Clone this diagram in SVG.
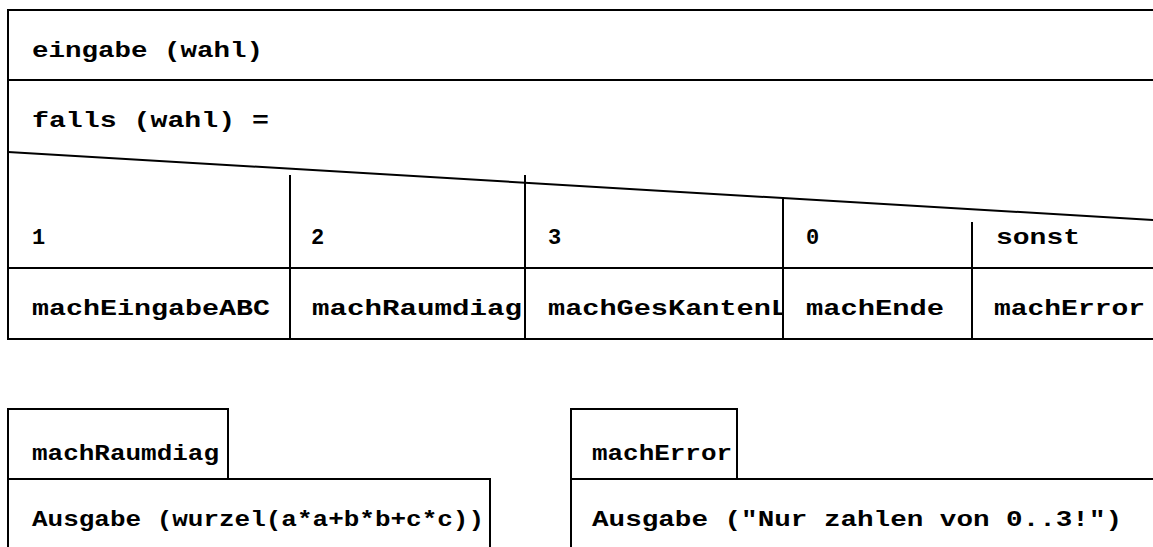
<svg xmlns="http://www.w3.org/2000/svg" width="1153" height="547" viewBox="0 0 1153 547">
  <style>
    .ln { stroke: #000; stroke-width: 2; fill: none; }
    .bx { stroke: #000; stroke-width: 2; fill: #fff; }
    .t { font-family: "Liberation Mono", "Courier New", monospace; font-weight: bold; font-size: 22px; fill: #000; }
  </style>
  <defs>
    <clipPath id="clip-case3"><rect x="526" y="269" width="256" height="69"/></clipPath>
  </defs>
  <rect width="1153" height="547" fill="#fff"/>

  <!-- main structogram -->
  <g id="main">
    <rect class="bx" x="8" y="10" width="1160" height="329"/>
    <line class="ln" x1="8" y1="80" x2="1160" y2="80"/>
    <text class="t" x="32" y="57" textLength="231" lengthAdjust="spacingAndGlyphs">eingabe (wahl)</text>
  </g>

  <g id="switch">
    <text class="t" x="32" y="127" textLength="237" lengthAdjust="spacingAndGlyphs">falls (wahl) =</text>
    <line class="ln" x1="8" y1="152" x2="1160" y2="220.4"/>
    <line class="ln" x1="8" y1="268" x2="1160" y2="268"/>
  </g>

  <g id="connectors">
    <line class="ln" x1="290" y1="175" x2="290" y2="339"/>
    <line class="ln" x1="525" y1="175" x2="525" y2="339"/>
    <line class="ln" x1="783" y1="198" x2="783" y2="339"/>
    <line class="ln" x1="972" y1="222" x2="972" y2="339"/>
  </g>

  <g id="case-1">
    <text class="t" x="32" y="244">1</text>
    <text class="t" x="32" y="315" textLength="238" lengthAdjust="spacingAndGlyphs">machEingabeABC</text>
  </g>
  <g id="case-2">
    <text class="t" x="311" y="244">2</text>
    <text class="t" x="312" y="315" textLength="210" lengthAdjust="spacingAndGlyphs">machRaumdiag</text>
  </g>
  <g id="case-3">
    <text class="t" x="548" y="244">3</text>
    <text class="t" x="548" y="315" textLength="240" lengthAdjust="spacingAndGlyphs" clip-path="url(#clip-case3)">machGesKantenL</text>
  </g>
  <g id="case-0">
    <text class="t" x="806" y="244">0</text>
    <text class="t" x="806" y="315" textLength="138" lengthAdjust="spacingAndGlyphs">machEnde</text>
  </g>
  <g id="case-sonst">
    <text class="t" x="996" y="244" textLength="84" lengthAdjust="spacingAndGlyphs">sonst</text>
    <text class="t" x="994" y="315" textLength="151" lengthAdjust="spacingAndGlyphs">machError</text>
  </g>

  <!-- sub-routine: machRaumdiag -->
  <g id="sub-raumdiag">
    <rect class="bx" x="8" y="409" width="220" height="70"/>
    <text class="t" x="32" y="460" textLength="187" lengthAdjust="spacingAndGlyphs">machRaumdiag</text>
    <rect class="bx" x="8" y="479" width="482" height="80"/>
    <text class="t" x="32" y="526" textLength="452" lengthAdjust="spacingAndGlyphs">Ausgabe (wurzel(a*a+b*b+c*c))</text>
  </g>

  <!-- sub-routine: machError -->
  <g id="sub-error">
    <rect class="bx" x="571" y="409" width="166" height="70"/>
    <text class="t" x="592" y="460" textLength="140" lengthAdjust="spacingAndGlyphs">machError</text>
    <rect class="bx" x="571" y="479" width="600" height="80"/>
    <text class="t" x="592" y="526" textLength="530" lengthAdjust="spacingAndGlyphs">Ausgabe ("Nur zahlen von 0..3!")</text>
  </g>
</svg>
